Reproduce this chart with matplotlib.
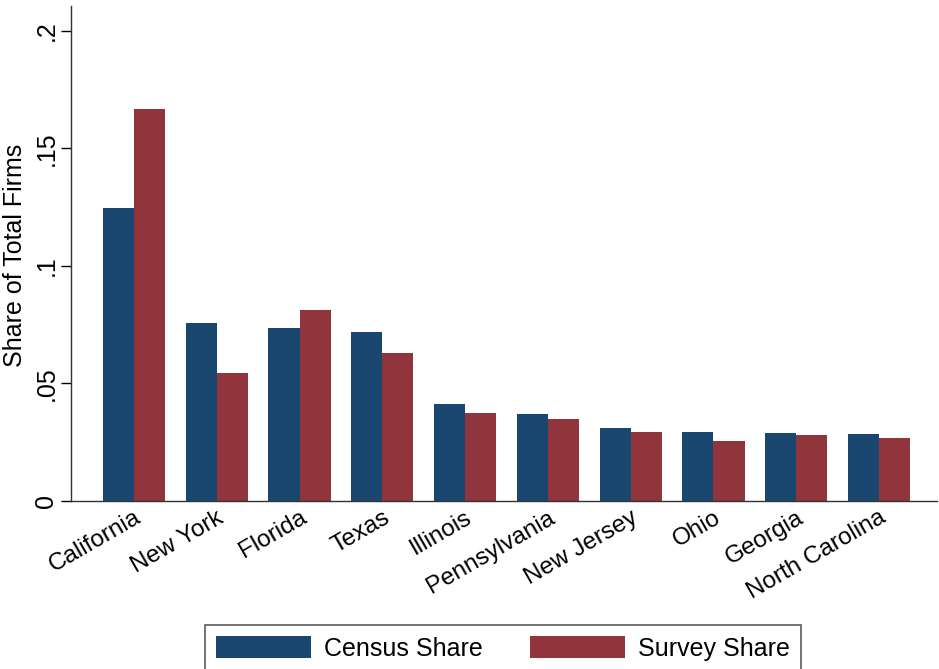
import numpy as np
import matplotlib
matplotlib.use("Agg")
import matplotlib.pyplot as plt

plt.rcParams['font.family'] = ['Liberation Sans', 'DejaVu Sans']

# Data
states = ["California", "New York", "Florida", "Texas", "Illinois",
          "Pennsylvania", "New Jersey", "Ohio", "Georgia", "North Carolina"]
census_share = [0.1247, 0.0757, 0.0736, 0.0719, 0.0413,
                0.0369, 0.0312, 0.0294, 0.0289, 0.0284]
survey_share = [0.1668, 0.0545, 0.0813, 0.0630, 0.0374,
                0.0350, 0.0292, 0.0257, 0.0281, 0.0269]
yticks = [0, 0.05, 0.1, 0.15, 0.2]
ytick_labels = ["0", ".05", ".1", ".15", ".2"]

NAVY = "#1a476f"
MAROON = "#90353b"

fig = plt.figure(figsize=(9.39, 6.69), dpi=100)
ax = fig.add_axes([71 / 939, 1 - 501 / 669, 866 / 939, 495 / 669])

x = np.arange(len(states))
w = 0.375
ax.bar(x - w / 2, census_share, width=w, color=NAVY, label="Census Share")
ax.bar(x + w / 2, survey_share, width=w, color=MAROON, label="Survey Share")

ax.set_xlim(-0.76, 9.7)
ax.set_ylim(0, 0.2106)
ax.set_yticks(yticks)
ax.set_yticklabels(ytick_labels, rotation=90, va="center", fontsize=18)
ax.tick_params(axis="y", direction="out", length=7, width=1, pad=2)

# y axis title, placed in figure coordinates so it is not clipped
fig.text(15 / 939, 1 - 255 / 669, "Share of Total Firms", rotation=90,
         ha="center", va="center", fontsize=18)

ax.set_xticks(x)
ax.set_xticklabels(states, rotation=30, ha="right", rotation_mode="anchor",
                   fontsize=17.5)
ax.tick_params(axis="x", length=0, pad=4)

for side in ["top", "right"]:
    ax.spines[side].set_visible(False)
for side in ["left", "bottom"]:
    ax.spines[side].set_color("#333333")
    ax.spines[side].set_linewidth(1)

leg = fig.legend(loc="upper left", bbox_to_anchor=(205 / 939, 1 - 625 / 669),
                 ncol=2, fontsize=18, handlelength=3.8, handleheight=0.95,
                 columnspacing=1.9, handletextpad=0.5, borderpad=0.45,
                 borderaxespad=0, fancybox=False, edgecolor="#333333")
leg.get_frame().set_linewidth(1.2)

fig.savefig("out.png", dpi=100)
